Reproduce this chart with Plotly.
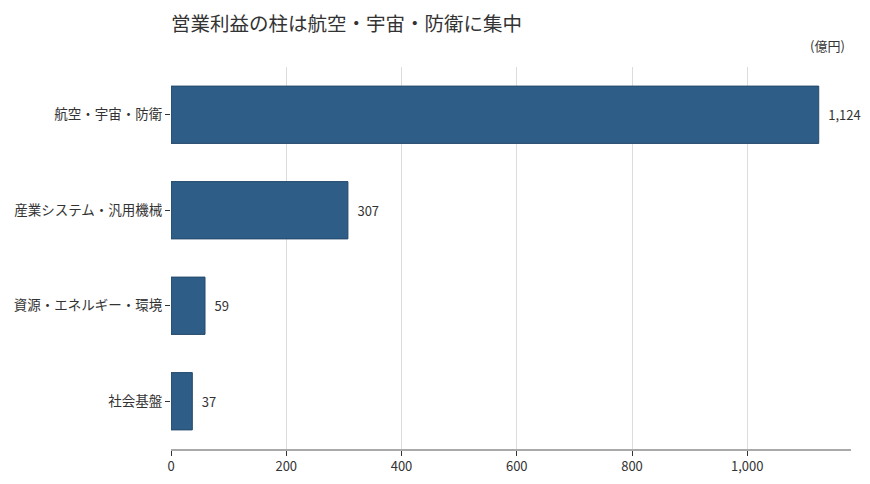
import plotly.graph_objects as go

categories = ["航空・宇宙・防衛", "産業システム・汎用機械", "資源・エネルギー・環境", "社会基盤"]
values = [1124, 307, 59, 37]
value_labels = ["1,124", "307", "59", "37"]
x_ticks = [0, 200, 400, 600, 800, 1000]
x_tick_labels = ["0", "200", "400", "600", "800", "1,000"]

FONT = "Noto Sans CJK JP"
W, H = 862, 476

fig = go.Figure(go.Bar(
    x=values, y=categories, orientation="h",
    marker=dict(color="#2e5d87", line=dict(color="#24496b", width=1)),
    width=0.6,
    text=["\u2002" + s for s in value_labels], textposition="outside",
    textfont=dict(size=13, color="#333333", family=FONT),
    cliponaxis=False,
))

fig.update_layout(
    width=W, height=H,
    margin=dict(l=163, r=19, t=59, b=35),
    paper_bgcolor="white", plot_bgcolor="white",
    font=dict(family=FONT, size=13, color="#333333"),
    title=dict(text="営業利益の柱は航空・宇宙・防衛に集中", x=163 / W, xanchor="left",
               y=1 - 16 / H, yanchor="middle",
               font=dict(size=19.5, color="#333333", family=FONT)),
    showlegend=False,
    bargap=0.4,
    annotations=[dict(text="(億円)", xref="paper", yref="paper", x=1, y=1,
                      xanchor="right", yanchor="bottom", yshift=10, xshift=-4,
                      showarrow=False,
                      font=dict(size=13, color="#333333", family=FONT))],
)
fig.update_xaxes(range=[0, 1180], tickvals=x_ticks, ticktext=x_tick_labels,
                 showgrid=True, gridcolor="#dcdcdc", gridwidth=1,
                 showline=True, linecolor="#aaaaaa", linewidth=1.5,
                 ticks="outside", ticklen=5, tickcolor="#333333",
                 zeroline=False, automargin=False,
                 tickfont=dict(size=13, color="#333333"))
fig.update_yaxes(autorange="reversed", showgrid=False, showline=False,
                 ticks="outside", ticklen=5, tickcolor="#333333",
                 automargin=False,
                 tickfont=dict(size=13.5, color="#333333"))

fig.write_html("out.html")
